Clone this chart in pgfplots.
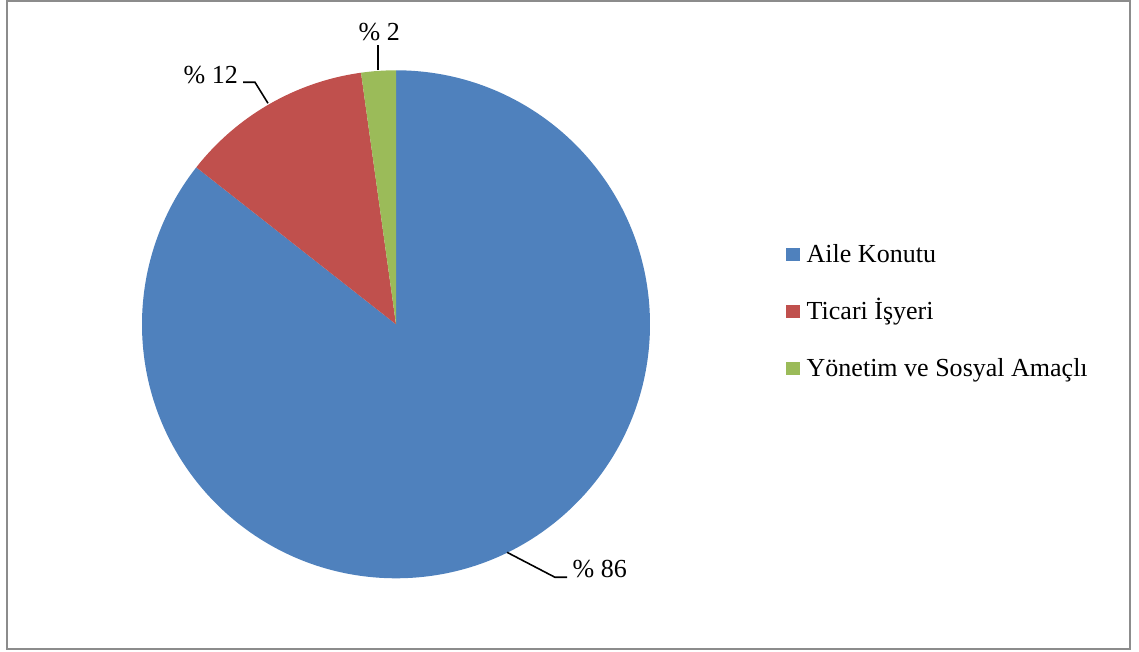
\documentclass[border=0pt]{standalone}
\usepackage{pgfplots}
\pgfplotsset{compat=1.18}
\usepackage{pgfplotstable}
\usepackage{fontspec}
\setmainfont{Liberation Serif}
\definecolor{cblue}{HTML}{4F81BD}
\definecolor{cred}{HTML}{C0504D}
\definecolor{cgreen}{HTML}{9BBB59}
\definecolor{cframe}{HTML}{8C8C8C}
\pgfplotstableread{
share label
85.6 86
12.2 12
2.2 2
}\piedata
\begin{document}%
\begin{tikzpicture}[font=\fontsize{7.4}{9}\selectfont]
\pgfplotstablegetelem{0}{share}\of\piedata \let\sA\pgfplotsretval
\pgfplotstablegetelem{1}{share}\of\piedata \let\sB\pgfplotsretval
\pgfplotstablegetelem{2}{share}\of\piedata \let\sC\pgfplotsretval
\pgfplotstablegetelem{0}{label}\of\piedata \let\lA\pgfplotsretval
\pgfplotstablegetelem{1}{label}\of\piedata \let\lB\pgfplotsretval
\pgfplotstablegetelem{2}{label}\of\piedata \let\lC\pgfplotsretval
\pgfmathsetmacro\aZ{90}
\pgfmathsetmacro\aA{\aZ-3.6*\sA}
\pgfmathsetmacro\aB{\aA-3.6*\sB}
\pgfmathsetmacro\aC{\aB-3.6*\sC}
\begin{axis}[scale only axis, width=11.39cm, height=6.51cm,
  xmin=0, xmax=1139, ymin=0, ymax=651, hide axis, clip=false]
\path (axis cs:0,0) rectangle (axis cs:1139,651);
\draw[cframe, line width=0.2mm] (axis cs:7.5,2.5) rectangle (axis cs:1130,650.3);
\fill[cblue] (axis cs:396,327) -- ++(\aZ:2.54cm) arc[start angle=\aZ, end angle=\aA, radius=2.54cm] -- cycle;
\fill[cred] (axis cs:396,327) -- ++(\aA:2.54cm) arc[start angle=\aA, end angle=\aB, radius=2.54cm] -- cycle;
\fill[cgreen] (axis cs:396,327) -- ++(\aB:2.54cm) arc[start angle=\aB, end angle=\aC, radius=2.54cm] -- cycle;
% leader lines
\draw[line width=0.45pt] (axis cs:507,99) -- (axis cs:555,74) -- (axis cs:567,74);
\draw[line width=0.45pt] (axis cs:243,569) -- (axis cs:255,569) -- (axis cs:268,548);
\draw[line width=0.45pt] (axis cs:378,606) -- (axis cs:378,581);
\node[anchor=base west, inner sep=0] at (axis cs:572,74) {\% \lA};
\node[anchor=base west, inner sep=0] at (axis cs:183,568) {\% \lB};
\node[anchor=base west, inner sep=0] at (axis cs:358,611) {\% \lC};
% legend
\fill[cblue] (axis cs:786,390) rectangle (axis cs:800,403);
\fill[cred] (axis cs:786,333) rectangle (axis cs:800,346);
\fill[cgreen] (axis cs:786,276) rectangle (axis cs:800,289);
\node[anchor=base west, inner sep=0] at (axis cs:806,389) {Aile Konutu};
\node[anchor=base west, inner sep=0] at (axis cs:806,332) {Ticari İşyeri};
\node[anchor=base west, inner sep=0] at (axis cs:806,275) {Yönetim ve Sosyal Amaçlı};
\end{axis}
\end{tikzpicture}%
\end{document}
